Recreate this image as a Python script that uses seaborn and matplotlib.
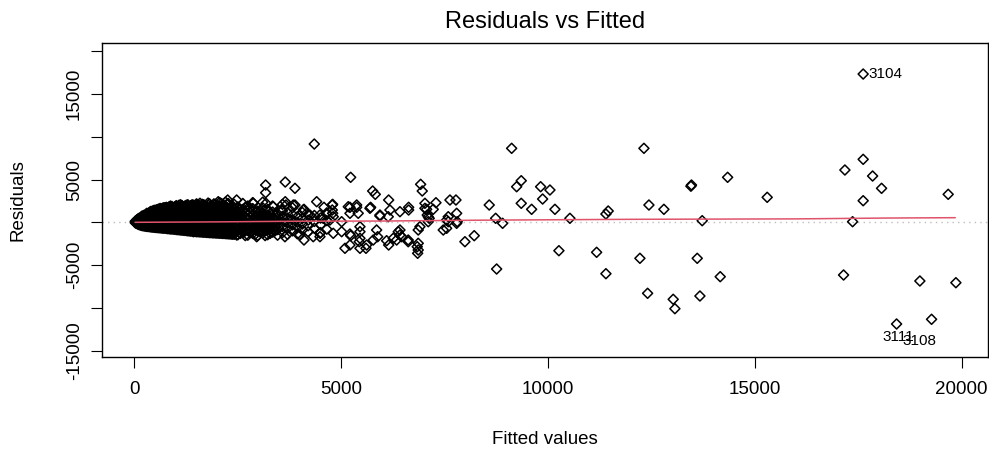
import matplotlib
matplotlib.use("Agg")
import matplotlib.pyplot as plt
import seaborn as sns
import numpy as np
import pandas as pd

# ---------------- data ----------------
# dense cloud at small fitted values: one column of residuals per fitted value
dense_fitted = [20, 60, 100, 140, 180, 220, 260, 300, 350, 400, 450, 500, 560, 620,
                680, 740, 800, 870, 940, 1010, 1080, 1150, 1220, 1290, 1360, 1430,
                1500, 1570, 1640, 1710, 1780, 1850, 1920, 1990, 2060, 2130, 2200,
                2270, 2340, 2410, 2500, 2620, 2740, 2860, 2980, 3100, 3220, 3340,
                3460, 3580, 3700, 3820, 3940, 4060, 4200, 4350, 4500, 4650]
dense_resid = [
    [-60, 40, 130],
    [-150, 0, 150, 300],
    [-250, -80, 100, 280, 450],
    [-300, -100, 100, 300, 520],
    [-380, -150, 80, 300, 550, 720],
    [-400, -150, 100, 350, 600, 800],
    [-430, -180, 60, 320, 580, 850],
    [-480, -200, 50, 300, 580, 820, 1050],
    [-500, -220, 40, 310, 580, 850, 1100],
    [-540, -260, 20, 300, 570, 850, 1120, 1280],
    [-560, -280, 0, 280, 560, 840, 1100, 1350],
    [-600, -300, -20, 270, 550, 830, 1100, 1400],
    [-620, -330, -40, 250, 540, 820, 1120, 1420, 1500],
    [-650, -350, -60, 240, 530, 820, 1110, 1400, 1620],
    [-680, -380, -80, 220, 520, 810, 1100, 1400, 1650],
    [-700, -400, -100, 200, 500, 800, 1100, 1380, 1700],
    [-740, -430, -120, 190, 490, 790, 1090, 1390, 1680],
    [-780, -460, -140, 170, 480, 780, 1080, 1380, 1700, 1900],
    [-800, -490, -170, 150, 460, 770, 1080, 1390, 1700],
    [-850, -520, -190, 130, 450, 760, 1070, 1380, 1690, 1950],
    [-880, -550, -210, 120, 440, 750, 1060, 1370, 1680, 2000],
    [-920, -580, -240, 100, 430, 740, 1050, 1360, 1670, 1950],
    [-950, -610, -260, 80, 420, 730, 1040, 1350, 1660, 1900],
    [-1000, -640, -280, 70, 410, 720, 1030, 1340, 1650, 2050],
    [-1030, -660, -300, 60, 400, 710, 1020, 1330, 1640, 1950],
    [-1060, -700, -320, 40, 390, 700, 1010, 1320, 1630, 2000],
    [-1100, -720, -340, 30, 380, 690, 1000, 1310, 1620, 1950, 2150],
    [-1120, -750, -360, 20, 370, 680, 990, 1300, 1610, 1900],
    [-1150, -780, -380, 10, 360, 670, 980, 1290, 1600, 2100],
    [-1170, -800, -400, 0, 350, 660, 970, 1280, 1590, 1950],
    [-1200, -820, -420, -10, 340, 650, 960, 1270, 1580, 2000, 2250],
    [-1220, -840, -440, -20, 330, 640, 950, 1260, 1570, 1900],
    [-1240, -860, -460, -30, 320, 630, 940, 1250, 1560, 2150],
    [-1260, -880, -480, -40, 310, 620, 930, 1240, 1550, 1950],
    [-1280, -900, -500, -50, 300, 610, 920, 1230, 1540, 1850, 2300],
    [-1300, -920, -520, -60, 290, 600, 910, 1220, 1530, 2100],
    [-1320, -940, -540, -70, 280, 590, 900, 1210, 1520, 1900, 2350],
    [-1350, -960, -560, -80, 270, 580, 890, 1200, 1510, 2200],
    [-1380, -980, -580, -90, 260, 570, 880, 1190, 1500, 1850],
    [-1400, -1000, -600, -100, 250, 560, 870, 1180, 1490, 2100],
    [-1450, -900, -350, 150, 700, 1250, 1800],
    [-1200, -600, -100, 400, 950, 1500, 2200],
    [-1500, -950, -300, 250, 800, 1350, 1900],
    [-1300, -700, -150, 350, 900, 1600, 2300],
    [-1550, -1000, -400, 200, 750, 1300],
    [-1250, -650, -50, 500, 1100, 1700, 2350],
    [-1450, -900, -300, 250, 850, 1500],
    [-1150, -600, 0, 600, 1200, 1900],
    [-1500, -850, -250, 350, 1000],
    [-1200, -500, 100, 700, 1350, 2100],
    [-1400, -700, -100, 500, 1150],
    [-1000, -300, 300, 900, 1700],
    [-1350, -600, 0, 650],
    [-900, -200, 450, 1150],
    [-1100, -400, 250, 900],
    [-700, 100, 800],
    [-1200, -300, 500],
    [-800, 200, 1100],
]

# second, interleaved set of columns inside the solid black band
dense2_fitted = [40, 80, 120, 160, 200, 240, 280, 325, 375, 425, 475, 530, 590, 650,
                 710, 770, 835, 905, 975, 1045, 1115, 1185, 1255, 1325, 1395, 1465,
                 1535, 1605, 1675, 1745, 1815, 1885, 1955, 2025, 2095, 2165, 2235,
                 2305, 2375, 2560, 2680, 2800, 2920, 3040, 3160, 3280, 3400]
dense2_resid = [
    [-100, 20, 150],
    [-200, -60, 80, 230, 350],
    [-280, -180, 0, 200, 400],
    [-340, -220, -10, 200, 420, 600],
    [-390, -270, -20, 220, 470, 700],
    [-420, -300, -40, 200, 450, 720],
    [-460, -330, -70, 180, 440, 700, 950],
    [-490, -350, -80, 170, 440, 700, 960],
    [-520, -370, -110, 160, 440, 720, 980, 1200],
    [-550, -400, -130, 140, 430, 700, 980, 1230],
    [-580, -430, -150, 130, 410, 690, 970, 1250, 1400],
    [-610, -460, -180, 110, 400, 690, 970, 1260, 1450],
    [-640, -480, -200, 100, 390, 680, 960, 1260, 1550],
    [-660, -510, -220, 80, 370, 660, 950, 1250, 1550],
    [-690, -540, -240, 60, 360, 650, 950, 1250, 1550, 1700],
    [-720, -570, -260, 40, 340, 640, 940, 1240, 1540, 1750],
    [-760, -610, -300, 20, 330, 630, 930, 1230, 1540, 1800],
    [-790, -630, -320, 0, 310, 620, 930, 1230, 1540, 1850],
    [-820, -670, -350, -20, 290, 610, 920, 1230, 1540, 1820],
    [-860, -700, -370, -40, 280, 600, 910, 1220, 1530, 1850],
    [-900, -730, -400, -60, 270, 590, 900, 1210, 1520, 1830, 2050],
    [-930, -770, -420, -80, 260, 580, 890, 1200, 1510, 1820],
    [-970, -800, -450, -100, 250, 570, 880, 1190, 1500, 1800, 2000],
    [-1010, -840, -470, -110, 240, 560, 870, 1180, 1490, 1800],
    [-1040, -870, -500, -130, 230, 550, 860, 1170, 1480, 1800, 2050],
    [-1080, -900, -530, -150, 210, 540, 850, 1160, 1470, 1780],
    [-1110, -930, -550, -170, 200, 530, 840, 1150, 1460, 1780, 2080],
    [-1130, -960, -570, -180, 190, 520, 830, 1140, 1450, 1760],
    [-1160, -990, -590, -190, 180, 510, 820, 1130, 1440, 1780, 2050],
    [-1180, -1010, -610, -210, 170, 500, 810, 1120, 1430, 1780],
    [-1210, -1030, -630, -230, 160, 490, 800, 1110, 1420, 1750, 2150],
    [-1230, -1050, -650, -250, 150, 480, 790, 1100, 1410, 1730],
    [-1250, -1070, -670, -260, 140, 470, 780, 1090, 1400, 1750, 2100],
    [-1270, -1090, -690, -270, 130, 460, 770, 1080, 1390, 1700],
    [-1290, -1110, -710, -290, 120, 450, 760, 1070, 1380, 1700, 2200],
    [-1310, -1130, -730, -300, 110, 440, 750, 1060, 1370, 1700],
    [-1340, -1150, -750, -320, 100, 430, 740, 1050, 1360, 1700, 2100],
    [-1360, -1170, -770, -330, 90, 420, 730, 1040, 1350, 1650],
    [-1390, -1190, -790, -350, 80, 410, 720, 1030, 1340, 1700],
    [-1300, -700, -200, 300, 850, 1500],
    [-1550, -1000, -450, 100, 650, 1200, 1750],
    [-1200, -500, 0, 550, 1100, 1650],
    [-1400, -850, -300, 250, 700, 1200],
    [-1100, -500, 100, 650, 1250],
    [-1550, -950, -350, 250, 800],
    [-1300, -750, -150, 400, 1000],
    [-1000, -450, 150, 750],
]

# individual, readable points
fitted_pts = [
    4348, 5228, 3172, 3172, 3646, 3881, 5760, 5823, 6920, 6959, 6147, 7629, 7774, 7290,
    7024, 6630, 6630, 6420, 5936, 5711, 5373, 5211, 4783, 4783, 4582, 4406, 4099, 7549,
    7588, 7791, 7104, 7104, 7467, 7549, 6862, 6903, 7991, 8216, 6420, 6461, 6258, 6147,
    6098, 5856, 5881, 5436, 5453, 5598, 5090, 5010, 5228, 6838, 6848, 6620, 4099, 4323,
    4485, 4807, 4727, 4807, 3840, 3646, 3559, 3356, 2873, 2471, 2254, 2026, 1584, 2955,
    2471, 2229, 1422, 3639, 4002,
    3180, 3663, 3881, 4792, 4792, 5170, 5373, 5211, 5411, 5694, 5936, 6178, 6137, 4164,
    4244, 4082, 4485, 4565, 5010, 4485, 5211, 5453, 5453, 5453, 5211, 5615, 5774, 6379,
    6340, 6420, 7024, 7225, 7065, 7080, 7128, 7791, 7805, 7588, 6862, 6862, 6620,
    8579, 8734, 8903, 8758, 9121, 9242, 9353, 9353, 9604, 9822, 9870, 10047, 10168,
    10264, 10530, 11176, 11401, 11456, 11401, 12223, 12320, 12441, 12409, 12803, 13028,
    13069, 13456, 13470, 13609, 13674, 13729, 14165, 14344, 15301, 17148, 17180, 17366,
    17622, 17622, 17850, 18067, 18993, 19678, 19864]
resid_pts = [
    9145, 5256, 4357, 3457, 4707, 3971, 3656, 3270, 4438, 3656, 2605, 2605, 2605, 2289,
    1635, 1437, 1752, 1238, 736, 1752, 1752, 1752, 2021, 1437, 1752, 2406, 1518, 269,
    654, -117, 654, 70, -899, -701, -899, -514, -2266, -1565, -899, -1682, -1869, -2651,
    -2149, -899, -1682, -2266, -3037, -3037, -3037, -1098, -1565, -2850, -3621, -2266, -2067, -1682,
    -1682, -1285, 269, 654, 2021, 2406, 1437, 1822, 2219, 2605, 2605, 2406, 2219, -1682,
    -1483, -1285, -1098, -1682, -1483,
    2219, 2021, 2021, 2102, 1051, 1822, 2021, 1051, 1051, 1635, 853, 1437, 654, 1051,
    853, 1437, 853, 467, 70, -1285, -1367, -1869, -1098, -514, -2651, -2651, -2067, -1098,
    -2067, -1483, 2219, 1518, 1518, 853, 467, 1051, 70, 70, -2453, -3235, -2067,
    2021, 467, -117, -5455, 8643, 4158, 4859, 2219, 1518, 4158, 2721, 3773, 1518,
    -3317, 467, -3504, 969, 1320, -6004, -4205, 8643, 2021, -8293, 1518, -8994,
    -10092, 4216, 4357, -4205, -8608, 187, -6354, 5256, 2920, -6155, 6109, 70,
    7358, 2523, 5408, 3971, -6856, 3270, -7055]

# labelled extreme observations
id_labels = ["3104", "3111", "3108"]
id_fitted = [17622, 18430, 19276]
id_resid = [17321, -11879, -11330]

# lowess smooth (red)
smooth_x = [14, 2000, 4000, 6000, 8400, 12000, 16000, 18250, 19850]
smooth_y = [0, 50, 130, 150, 250, 350, 400, 500, 540]

x_ticks = [0, 5000, 10000, 15000, 20000]
x_ticklabels = ["0", "5000", "10000", "15000", "20000"]
y_ticks = [-15000, -10000, -5000, 0, 5000, 10000, 15000, 20000]
y_ticklabels = ["-15000", "", "-5000", "", "5000", "", "15000", ""]

# ---------------- build table ----------------
fx, fy = [], []
for cols_x, cols_y in ((dense_fitted, dense_resid), (dense2_fitted, dense2_resid)):
    for xv, col in zip(cols_x, cols_y):
        fx.extend([xv] * len(col))
        fy.extend(col)
fx += fitted_pts + id_fitted
fy += resid_pts + id_resid
df = pd.DataFrame({"fitted": fx, "resid": fy})
sm = pd.DataFrame({"x": smooth_x, "y": smooth_y})

# ---------------- plot ----------------
sns.set_theme(style="white")
plt.rcParams["font.family"] = ["Liberation Sans", "DejaVu Sans"]

fig = plt.figure(figsize=(9.89, 4.5), dpi=100)
ax = fig.add_axes([0.1034, 0.2073, 0.8956, 0.6978])

ax.axhline(0, color="#BEBEBE", lw=1, ls=(0, (1, 3)), zorder=1)
sns.scatterplot(data=df, x="fitted", y="resid", ax=ax, marker="D", s=26,
                facecolor="none", edgecolor="black", linewidth=1.1, zorder=2)
sns.lineplot(data=sm, x="x", y="y", ax=ax, color="#DF536B", lw=1.1, zorder=3)

offsets = [(5, 0, "left"), (2, -13, "center"), (-12, -22, "center")]
for lab, xv, yv, (dx, dy, ha) in zip(id_labels, id_fitted, id_resid, offsets):
    ax.annotate(lab, xy=(xv, yv), xytext=(dx, dy), textcoords="offset pixels",
                ha=ha, va="center", fontsize=11, color="black")

ax.set_xlim(-779, 20641)
ax.set_ylim(-15701, 20981)
ax.set_xticks(x_ticks)
ax.set_xticklabels(x_ticklabels)
ax.set_yticks(y_ticks)
ax.set_yticklabels(y_ticklabels, rotation=90, va="center")

ax.tick_params(axis="both", direction="out", length=8, width=0.8, color="black",
               labelsize=13.5, labelcolor="black", left=True, bottom=True)
ax.tick_params(axis="x", pad=9.5)
ax.tick_params(axis="y", pad=6)
for sp in ax.spines.values():
    sp.set_visible(True)
    sp.set_color("black")
    sp.set_linewidth(1)

ax.set_xlabel("Fitted values", fontsize=13.5, color="black", va="center")
ax.xaxis.set_label_coords(0.5, -0.265)
ax.set_ylabel("Residuals", fontsize=13.5, color="black", va="center")
ax.yaxis.set_label_coords(-0.0952, 0.5)
ax.set_title("Residuals vs Fitted", fontsize=17, color="black", y=1.066, va="center", pad=0)

fig.savefig("out.png", dpi=100)
